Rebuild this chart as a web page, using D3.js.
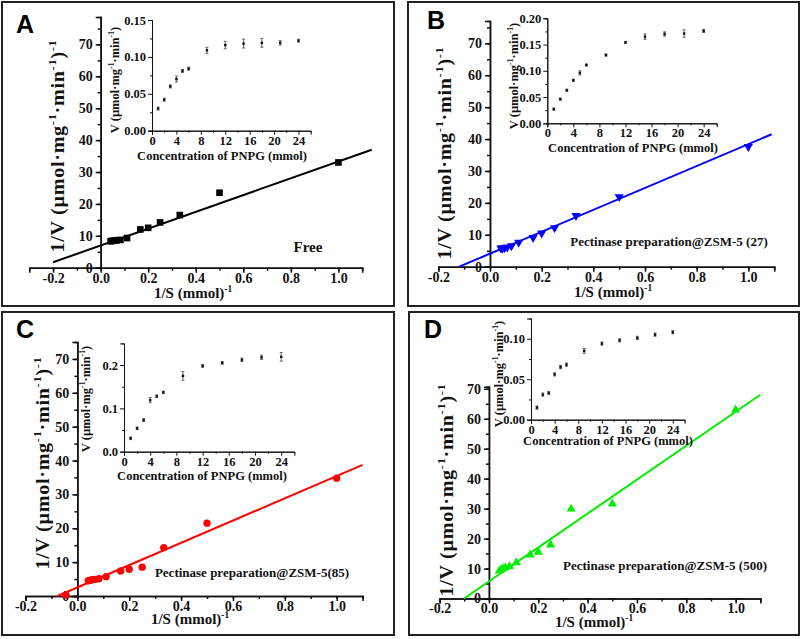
<!DOCTYPE html>
<html>
<head>
<meta charset="utf-8">
<script src="https://cdn.jsdelivr.net/npm/d3@7"></script>
<style>
  body { margin: 0; background: #fff; }
</style>
</head>
<body>
<svg id="chart" width="803" height="639"></svg>
<script>
// substrate concentrations (inset x) and their reciprocals (main x)
var conc = [1, 2, 3, 4, 5, 6, 9, 12, 15, 18, 21, 24];
var invS = [1, 0.5, 0.333, 0.25, 0.2, 0.167, 0.111, 0.083, 0.067, 0.056, 0.048, 0.042];

// A - free enzyme
var vFree = [0.030, 0.042, 0.060, 0.070, 0.081, 0.084, 0.109, 0.116, 0.118, 0.119, 0.119, 0.122];
var errFree = [0.002, 0.002, 0.002, 0.004, 0.002, 0.002, 0.004, 0.005, 0.006, 0.006, 0.003, 0.002];
var invVFree = [33.0, 23.5, 16.5, 14.2, 12.5, 12.0, 9.3, 8.7, 8.6, 8.5, 8.4, 8.3];
var fitFree = [[-0.2, 1.7], [1.14, 37.0]];

// B - ZSM-5 (27)
var v27 = [0.027, 0.046, 0.063, 0.082, 0.096, 0.111, 0.130, 0.154, 0.165, 0.170, 0.171, 0.176];
var err27 = [0.002, 0.002, 0.002, 0.002, 0.004, 0.002, 0.002, 0.002, 0.005, 0.004, 0.007, 0.003];
var invV27 = [37.6, 21.9, 16.0, 12.2, 10.5, 9.1, 7.6, 6.5, 6.1, 5.9, 5.8, 5.8];
var fit27 = [[-0.119, 0], [1.09, 41.5]];

// C - ZSM-5 (85)
var v85 = [0.031, 0.054, 0.073, 0.119, 0.128, 0.137, 0.175, 0.198, 0.205, 0.212, 0.218, 0.219];
var err85 = [0.003, 0.003, 0.003, 0.006, 0.003, 0.003, 0.010, 0.003, 0.003, 0.004, 0.005, 0.010];
var invV85 = [34.8, 21.5, 14.3, 8.5, 7.9, 7.4, 5.7, 5.1, 4.9, 4.8, 4.6, 4.5];
var extraX85 = [-0.044];
var extraY85 = [0.3];
var fit85 = [[-0.077, 0], [1.1, 38.7]];

// D - ZSM-5 (500)
var v500 = [0.015, 0.031, 0.033, 0.056, 0.065, 0.068, 0.085, 0.094, 0.098, 0.101, 0.105, 0.108];
var err500 = [0.002, 0.002, 0.002, 0.002, 0.002, 0.002, 0.003, 0.002, 0.002, 0.002, 0.002, 0.002];
var invV500 = [63.0, 31.6, 29.9, 17.9, 15.5, 14.6, 12.0, 10.7, 10.3, 10.0, 9.6, 9.2];
var fit500 = [[-0.101, 0], [1.1, 68.0]];

var mainXTicks = [-0.2, 0, 0.2, 0.4, 0.6, 0.8, 1.0];
var mainYTicks = [0, 10, 20, 30, 40, 50, 60, 70];
var insetXTicks = [0, 4, 8, 12, 16, 20, 24];

var SERIF = "'Liberation Serif', 'Times New Roman', Times, serif";
var SANS = "'Liberation Sans', Arial, Helvetica, sans-serif";

var panels = [
  { letter: "A", frame: [2, 2, 392, 304], lx: 16, ly: 33,
    xDom: [-0.3, 1.1], xRange: [29.3, 362.2], yDom: [0, 78.6], yRange: [267.7, 17],
    ytitle: [64, 146], xtitle: [193, 298],
    inv: invVFree, v: vFree, err: errFree, fit: fitFree, color: "#000", marker: "square",
    note: "Free", notePos: [308, 252], noteSize: 15,
    ins: { xRange: [152, 310.7], yDom: [0, 0.15], yRange: [130.7, 20], yTicks: [0, 0.05, 0.10, 0.15], yMinor: 0.025, fmt: ".2f",
           ytitle: [119, 80], xtitle: [222, 160] } },
  { letter: "B", frame: [408, 2, 391, 304], lx: 427, ly: 29,
    xDom: [-0.2, 1.1], xRange: [438.3, 774.2], yDom: [0, 77], yRange: [266.7, 21],
    ytitle: [451, 153], xtitle: [613, 297],
    inv: invV27, v: v27, err: err27, fit: fit27, color: "#0000ff", marker: "down",
    note: "Pectinase preparation@ZSM-5 (27)", notePos: [669, 246], noteSize: 13,
    ins: { xRange: [547.3, 716.7], yDom: [0, 0.2], yRange: [123.3, 18.3], yTicks: [0, 0.05, 0.10, 0.15, 0.20], yMinor: 0.025, fmt: ".2f",
           ytitle: [518, 76], xtitle: [633, 152] } },
  { letter: "C", frame: [2, 312, 392, 323], lx: 16, ly: 338,
    xDom: [-0.2, 1.1], xRange: [25.5, 362.6], yDom: [0, 75], yRange: [596, 342],
    ytitle: [49, 463], xtitle: [190, 624],
    inv: invV85, v: v85, err: err85, fit: fit85, color: "#ff0000", marker: "circle",
    extraX: extraX85, extraY: extraY85,
    note: "Pectinase preparation@ZSM-5(85)", notePos: [252, 577], noteSize: 13,
    ins: { xRange: [124, 294.3], yDom: [0, 0.25], yRange: [451.7, 343.4], yTicks: [0, 0.1, 0.2], yMinor: 0.05, fmt: ".1f",
           ytitle: [90, 399], xtitle: [202, 480] } },
  { letter: "D", frame: [409, 312, 390, 323], lx: 424, ly: 338,
    xDom: [-0.2, 1.1], xRange: [439.6, 760.3], yDom: [0, 70.7], yRange: [598.5, 386.7],
    ytitle: [453, 490], xtitle: [594, 627],
    inv: invV500, v: v500, err: err500, fit: fit500, color: "#00ee00", marker: "up",
    note: "Pectinase preparation@ZSM-5 (500)", notePos: [665, 570], noteSize: 13,
    ins: { xRange: [531, 684.6], yDom: [0, 0.125], yRange: [419.7, 318.5], yTicks: [0, 0.05, 0.10], yMinor: 0.025, fmt: ".2f",
           ytitle: [503, 374], xtitle: [608, 445] } }
];

var svg = d3.select("#chart");

function label(sel) {
  return sel.style("font-family", SERIF).style("font-weight", "bold").attr("fill", "#111");
}

// text with superscripts: parts = [[string, isSup], ...]
function rich(text, parts, fs) {
  var cur = 0;
  parts.forEach(function(p) {
    var target = p[1] ? -fs * 0.42 : 0;
    text.append("tspan")
        .attr("dy", target - cur)
        .attr("font-size", p[1] ? fs * 0.62 : fs)
        .text(p[0]);
    cur = target;
  });
}

function styleAxis(g, fs, width) {
  g.attr("font-family", null);
  g.selectAll("path").attr("stroke", "#111").attr("stroke-width", width);
  g.selectAll("line").attr("stroke", "#111").attr("stroke-width", width);
  g.selectAll("text").call(label).attr("font-size", fs);
}

panels.forEach(function(p) {
  var g = svg.append("g");

  g.append("rect")
      .attr("x", p.frame[0]).attr("y", p.frame[1])
      .attr("width", p.frame[2]).attr("height", p.frame[3])
      .attr("fill", "none").attr("stroke", "#222").attr("stroke-width", 2);

  g.append("text")
      .attr("x", p.lx).attr("y", p.ly)
      .style("font-family", SANS).style("font-weight", "bold")
      .attr("font-size", 25)
      .text(p.letter);

  // main Lineweaver-Burk plot
  var x = d3.scaleLinear().domain(p.xDom).range(p.xRange);
  var y = d3.scaleLinear().domain(p.yDom).range(p.yRange);

  var minorX = d3.range(Math.round(p.xDom[0] * 10), 12).map(function(d) { return d / 10; });
  g.append("g")
      .attr("transform", "translate(0," + y(0) + ")")
      .call(d3.axisBottom(x).tickValues(minorX).tickSize(3).tickFormat(""))
      .call(styleAxis, 14, 1.5);
  g.append("g")
      .attr("transform", "translate(0," + y(0) + ")")
      .call(d3.axisBottom(x).tickValues(mainXTicks).tickSize(5).tickPadding(0)
          .tickFormat(function(d) { return d.toFixed(1); }))
      .call(styleAxis, 14, 1.5);

  var minorY = d3.range(0, p.yDom[1], 5);
  g.append("g")
      .attr("transform", "translate(" + x(0) + ",0)")
      .call(d3.axisLeft(y).tickValues(minorY).tickSize(3).tickFormat(""))
      .call(styleAxis, 14, 1.5);
  g.append("g")
      .attr("transform", "translate(" + x(0) + ",0)")
      .call(d3.axisLeft(y).tickValues(mainYTicks).tickSize(5).tickPadding(3))
      .call(styleAxis, 14, 1.5);

  var yt = g.append("text").call(label)
      .attr("text-anchor", "middle")
      .attr("letter-spacing", 0.6)
      .attr("transform", "translate(" + p.ytitle[0] + "," + p.ytitle[1] + ") rotate(-90) scale(1.12,1)");
  rich(yt, [["1/V (\u00b5mol\u00b7mg", false], ["-1", true], ["\u00b7min", false], ["-1", true], [")", false], ["-1", true]], 18);

  var xt = g.append("text").call(label)
      .attr("text-anchor", "middle")
      .attr("x", p.xtitle[0]).attr("y", p.xtitle[1]);
  rich(xt, [["1/S (mmol)", false], ["-1", true]], 15);

  g.append("line")
      .attr("x1", x(p.fit[0][0])).attr("y1", y(p.fit[0][1]))
      .attr("x2", x(p.fit[1][0])).attr("y2", y(p.fit[1][1]))
      .attr("stroke", p.color).attr("stroke-width", 2);

  var pts = invS.map(function(s, i) { return [s, p.inv[i]]; });
  if (p.extraX) p.extraX.forEach(function(s, i) { pts.push([s, p.extraY[i]]); });
  var sym = { square: d3.symbolSquare, circle: d3.symbolCircle, up: d3.symbolTriangle, down: d3.symbolTriangle }[p.marker];
  var size = p.marker == "circle" ? 42 : (p.marker == "square" ? 44 : 36);
  g.selectAll(".pt").data(pts).enter().append("path")
      .attr("d", d3.symbol().type(sym).size(size))
      .attr("transform", function(d) {
        return "translate(" + x(d[0]) + "," + y(d[1]) + ")" + (p.marker == "down" ? " rotate(180)" : "");
      })
      .attr("fill", p.color);

  g.append("text").call(label)
      .attr("text-anchor", "middle")
      .attr("x", p.notePos[0]).attr("y", p.notePos[1])
      .attr("font-size", p.noteSize)
      .text(p.note);

  // inset: velocity vs substrate
  var ins = p.ins;
  var ix = d3.scaleLinear().domain([0, 26]).range(ins.xRange);
  var iy = d3.scaleLinear().domain(ins.yDom).range(ins.yRange);

  g.append("g")
      .attr("transform", "translate(0," + ins.yRange[0] + ")")
      .call(d3.axisBottom(ix).tickValues(d3.range(2, 26, 4)).tickSize(2).tickFormat(""))
      .call(styleAxis, 12, 1);
  g.append("g")
      .attr("transform", "translate(0," + ins.yRange[0] + ")")
      .call(d3.axisBottom(ix).tickValues(insetXTicks).tickSize(4).tickPadding(1))
      .call(styleAxis, 12.5, 1);
  g.append("g")
      .attr("transform", "translate(" + ins.xRange[0] + ",0)")
      .call(d3.axisLeft(iy).tickValues(d3.range(ins.yMinor, ins.yDom[1], ins.yMinor * 2)).tickSize(2).tickFormat(""))
      .call(styleAxis, 12, 1);
  g.append("g")
      .attr("transform", "translate(" + ins.xRange[0] + ",0)")
      .call(d3.axisLeft(iy).tickValues(ins.yTicks).tickSize(4).tickPadding(2).tickFormat(d3.format(ins.fmt)))
      .call(styleAxis, 12.5, 1);

  var iyt = g.append("text").call(label)
      .attr("text-anchor", "middle")
      .attr("transform", "translate(" + ins.ytitle[0] + "," + ins.ytitle[1] + ") rotate(-90)");
  rich(iyt, [["V (\u00b5mol\u00b7mg", false], ["-1", true], ["\u00b7min", false], ["-1", true], [")", false]], 12.5);

  g.append("text").call(label)
      .attr("text-anchor", "middle")
      .attr("x", ins.xtitle[0]).attr("y", ins.xtitle[1])
      .attr("font-size", 12.5)
      .text("Concentration of PNPG (mmol)");

  var ipts = conc.map(function(c, i) { return [c, p.v[i], p.err[i]]; });
  var eb = g.selectAll(".eb").data(ipts).enter().append("g");
  eb.append("line")
      .attr("x1", function(d) { return ix(d[0]); }).attr("x2", function(d) { return ix(d[0]); })
      .attr("y1", function(d) { return iy(d[1] - d[2]); }).attr("y2", function(d) { return iy(d[1] + d[2]); })
      .attr("stroke", "#444").attr("stroke-width", 0.8);
  [-1, 1].forEach(function(s) {
    eb.append("line")
        .attr("x1", function(d) { return ix(d[0]) - 1.5; }).attr("x2", function(d) { return ix(d[0]) + 1.5; })
        .attr("y1", function(d) { return iy(d[1] + s * d[2]); }).attr("y2", function(d) { return iy(d[1] + s * d[2]); })
        .attr("stroke", "#444").attr("stroke-width", 0.8);
  });
  eb.append("rect")
      .attr("x", function(d) { return ix(d[0]) - 1.2; }).attr("y", function(d) { return iy(d[1]) - 1.2; })
      .attr("width", 2.4).attr("height", 2.4).attr("fill", "#111");
});
</script>
</body>
</html>
